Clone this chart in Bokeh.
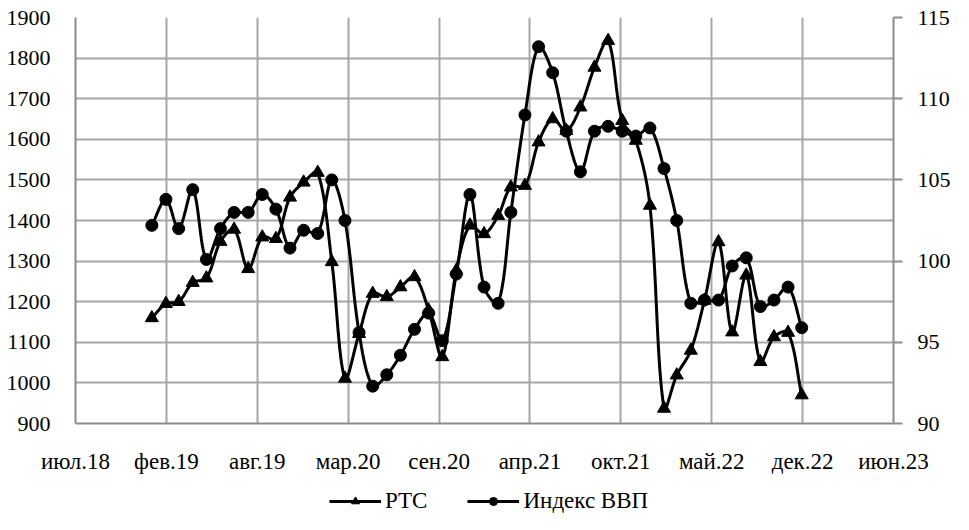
import numpy as np
import pandas as pd
from bokeh.plotting import figure
from bokeh.layouts import column
from bokeh.models import Range1d, LinearAxis, FixedTicker, Legend, LegendItem
from bokeh.embed import file_html
from bokeh.resources import INLINE

# ---- data ----
months = [f"{y}-{m:02d}-01" for y in range(2019, 2023) for m in range(1, 13)]

rts = [1160, 1195, 1200, 1247, 1258, 1348, 1378, 1281, 1359, 1355, 1457, 1494,
       1518, 1298, 1011, 1121, 1220, 1212, 1236, 1261, 1179, 1064, 1277, 1388,
       1367, 1412, 1482, 1486, 1593, 1650, 1621, 1679, 1777, 1843, 1646, 1597,
       1437, 937, 1019, 1080, 1203, 1347, 1125, 1265, 1052, 1113, 1124, 970]

gdp = [102.2, 103.8, 102.0, 104.4, 100.1, 102.0, 103.0, 103.0, 104.1, 103.2, 100.8, 101.9,
       101.7, 105.0, 102.5, 95.6, 92.3, 93.0, 94.2, 95.8, 96.8, 95.1, 99.2, 104.1,
       98.4, 97.4, 103.0, 109.0, 113.2, 111.6, 108.0, 105.5, 108.0, 108.3, 108.0, 107.7,
       108.2, 105.7, 102.5, 97.4, 97.6, 97.6, 99.7, 100.2, 97.2, 97.6, 98.4, 95.9]

series_names = ["РТС", "Индекс ВВП"]
tick_labels = ["июл.18", "фев.19", "авг.19", "мар.20", "сен.20",
               "апр.21", "окт.21", "май.22", "дек.22", "июн.23"]
left_ticks = [900, 1000, 1100, 1200, 1300, 1400, 1500, 1600, 1700, 1800, 1900]
right_ticks = [90, 95, 100, 105, 110, 115]

axis_start = pd.Timestamp("2018-07-17")
tick_step_days = 200

# ---- layout constants ----
W = 953
H_MAIN = 480
H_LEG = 34
B_LEFT, B_RIGHT, B_TOP, B_BOTTOM = 75, 59, 17, 57
FRAME_W = W - B_LEFT - B_RIGHT
FRAME_H = H_MAIN - B_TOP - B_BOTTOM

# ---- derived ----
x_days = np.array([(pd.Timestamp(m) - axis_start).days for m in months], dtype=float)
x_ticks = [i * tick_step_days for i in range(len(tick_labels))]
x_span = tick_step_days * (len(tick_labels) - 1)


def smooth(xs, ys, sx, sy, n=24):
    """Excel-like smoothed line: cubic Bezier with tangent P[i+1]-P[i-1],
    control lengths proportional to adjacent segment lengths (screen space)."""
    P = np.column_stack([np.asarray(xs, float) * sx, np.asarray(ys, float) * sy])
    N = len(P)
    d = np.hypot(*(P[1:] - P[:-1]).T)
    t = np.linspace(0, 1, n, endpoint=False)[:, None]
    out = []
    for i in range(N - 1):
        p1, p2 = P[i], P[i + 1]
        if i > 0:
            T1 = P[i + 1] - P[i - 1]
            c1 = p1 + T1 * (d[i] / (d[i - 1] + d[i])) / 3.0
        else:
            c1 = p1 + (p2 - p1) / 3.0
        if i + 2 < N:
            T2 = P[i + 2] - P[i]
            c2 = p2 - T2 * (d[i] / (d[i] + d[i + 1])) / 3.0
        else:
            c2 = p2 - (p2 - p1) / 3.0
        seg = ((1 - t) ** 3) * p1 + 3 * ((1 - t) ** 2) * t * c1 + 3 * (1 - t) * t ** 2 * c2 + t ** 3 * p2
        out.append(seg)
    out.append(P[-1:])
    arr = np.vstack(out)
    return arr[:, 0] / sx, arr[:, 1] / sy


FONT = "Liberation Serif, DejaVu Serif, serif"
FS = "22px"
GRID = "#A6A6A6"
AX = "#8C8C8C"

p = figure(width=W, height=H_MAIN, output_backend="svg", toolbar_location=None,
           x_range=Range1d(0, x_span),
           y_range=Range1d(left_ticks[0], left_ticks[-1]),
           min_border_left=B_LEFT, min_border_right=B_RIGHT,
           min_border_top=B_TOP, min_border_bottom=B_BOTTOM)
p.outline_line_color = None
p.background_fill_color = "white"
p.extra_y_ranges = {"gdp": Range1d(right_ticks[0], right_ticks[-1])}

# axes
xa = p.xaxis[0]
xa.ticker = FixedTicker(ticks=x_ticks)
xa.major_label_overrides = {t: lab for t, lab in zip(x_ticks, tick_labels)}
ya = p.yaxis[0]
ya.ticker = FixedTicker(ticks=left_ticks)

ra = LinearAxis(y_range_name="gdp", ticker=FixedTicker(ticks=right_ticks))
p.add_layout(ra, "right")

for ax in (xa, ya, ra):
    ax.axis_line_color = AX
    ax.axis_line_width = 2
    ax.minor_tick_line_color = None
    ax.major_label_text_font = FONT
    ax.major_label_text_font_size = FS
    ax.major_label_text_color = "black"
for ax in (xa, ya):
    ax.major_tick_line_color = None
    ax.major_tick_out = 0
    ax.major_tick_in = 0
xa.major_label_text_font_size = "23px"
xa.major_label_standoff = 25
ya.major_label_standoff = 25
ra.major_tick_line_color = AX
ra.major_tick_line_width = 2
ra.major_tick_out = 9
ra.major_tick_in = 0
ra.major_label_standoff = 15

p.xgrid.ticker = FixedTicker(ticks=x_ticks)
p.ygrid.ticker = FixedTicker(ticks=left_ticks)
for g in (p.xgrid, p.ygrid):
    g.grid_line_color = GRID
    g.grid_line_width = 2

# series
px_day = FRAME_W / x_span
px_rts = FRAME_H / (left_ticks[-1] - left_ticks[0])
px_gdp = FRAME_H / (right_ticks[-1] - right_ticks[0])

sx, sy = smooth(x_days, rts, px_day, px_rts)
p.line(sx, sy, line_color="black", line_width=3)
p.scatter(x_days, rts, marker="triangle", size=13, color="black")

gx, gy = smooth(x_days, gdp, px_day, px_gdp)
p.line(gx, gy, line_color="black", line_width=3, y_range_name="gdp")
p.scatter(x_days, gdp, marker="circle", size=12, color="black", y_range_name="gdp")

# legend figure (legend drawn below the chart); its renderers lie outside its ranges
lp = figure(width=W, height=H_LEG, output_backend="svg", toolbar_location=None,
            x_range=Range1d(-2, -1), y_range=Range1d(-2, -1),
            x_axis_location=None, y_axis_location=None,
            min_border_left=0, min_border_right=0, min_border_top=0, min_border_bottom=0)
lp.outline_line_color = None
lp.xgrid.visible = False
lp.ygrid.visible = False
k1 = lp.line(x_days[:2], rts[:2], line_color="black", line_width=3)
k2 = lp.scatter(x_days[:1], rts[:1], marker="triangle", size=13, color="black")
k3 = lp.line(x_days[:2], gdp[:2], line_color="black", line_width=3)
k4 = lp.scatter(x_days[:1], gdp[:1], marker="circle", size=12, color="black")

legend = Legend(items=[LegendItem(label=series_names[0], renderers=[k1, k2]),
                       LegendItem(label=series_names[1], renderers=[k3, k4])],
                orientation="horizontal", location=(254, 0))
legend.label_text_font = FONT
legend.label_text_font_size = "23px"
legend.label_text_color = "black"
legend.glyph_width = 52
legend.glyph_height = 20
legend.label_standoff = 4
legend.spacing = 40
legend.padding = 0
legend.margin = 0
legend.border_line_color = None
legend.background_fill_alpha = 0
lp.add_layout(legend, "center")

open("out.html", "w").write(file_html(column(p, lp, spacing=0), INLINE))
